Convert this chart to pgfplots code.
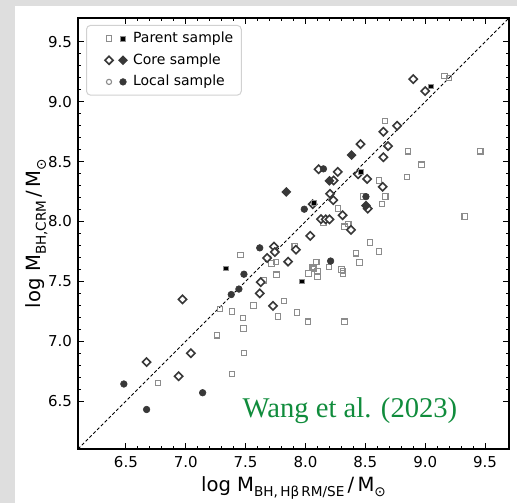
\documentclass[border=0pt]{standalone}
\usepackage{pgfplots}
\pgfplotsset{compat=1.18}
\usepackage{pgfplotstable}
\usepackage{fontspec}
\setmainfont{DejaVu Sans}
\newfontfamily\citefont{Liberation Serif}

\definecolor{bggray}{HTML}{DEDEDE}
\definecolor{opengray}{HTML}{8C8C8C}
\definecolor{coredark}{HTML}{383838}
\definecolor{citegreen}{RGB}{16,140,60}

% parent sample, SE masses (open) and RM masses (filled)
\pgfplotstableread{
x y
9.16 9.215
9.20 9.20
8.665 8.84
8.855 8.587
9.46 8.587
8.97 8.475
8.85 8.372
8.615 8.343
8.667 8.208
8.64 8.145
9.33 8.042
8.48 8.21
8.27 8.11
8.15 7.99
8.325 7.957
8.358 7.98
7.91 7.793
8.54 7.825
8.42 7.735
8.615 7.75
8.45 7.657
8.06 7.618
8.09 7.66
8.195 7.622
8.30 7.60
8.024 7.565
8.072 7.606
8.10 7.587
8.10 7.537
8.313 7.587
8.313 7.565
7.457 7.72
7.715 7.65
7.755 7.66
7.758 7.556
7.654 7.508
7.82 7.335
7.93 7.24
8.02 7.163
8.327 7.163
7.77 7.206
7.565 7.298
7.284 7.27
7.387 7.248
7.48 7.194
7.483 7.107
7.259 7.05
7.486 6.90
7.387 6.727
6.77 6.65
}\parentopen
\pgfplotstableread{
x y
9.05 9.13
8.46 8.417
8.07 8.155
7.336 7.61
7.968 7.50
}\parentfilled

% core sample
\pgfplotstableread{
x y
8.90 9.19
9.00 9.09
8.765 8.80
8.65 8.75
8.46 8.647
8.69 8.63
8.65 8.537
8.11 8.437
8.27 8.415
8.44 8.395
8.515 8.356
8.235 8.343
8.645 8.29
8.205 8.232
8.232 8.178
8.52 8.108
8.06 8.145
8.13 8.02
8.17 8.018
8.20 8.018
8.31 8.053
8.38 7.93
8.04 7.88
7.92 7.765
7.737 7.79
7.744 7.745
7.855 7.665
7.68 7.695
7.626 7.494
7.618 7.40
7.729 7.295
6.973 7.35
7.043 6.90
6.673 6.826
6.94 6.708
}\coreopen
\pgfplotstableread{
x y
8.385 8.555
8.20 8.34
7.84 8.247
8.505 8.133
}\corefilled

% local sample
\pgfplotstableread{
x y
8.15 8.44
7.99 8.103
8.505 8.208
8.21 7.67
7.618 7.78
7.486 7.56
7.444 7.436
7.38 7.39
6.483 6.643
6.673 6.43
7.141 6.57
}\localfilled

\tikzset{
  pOpen/.style={mark=square, mark size=1.35pt,
    mark options={draw=opengray, line width=0.55pt}},
  pFill/.style={mark=square*, mark size=1.2pt,
    mark options={draw=opengray, fill=black, line width=0.3pt}},
  cOpen/.style={mark=square*, mark size=1.45pt,
    mark options={rotate=45, draw=coredark, fill=white, line width=0.8pt}},
  cFill/.style={mark=square*, mark size=1.45pt,
    mark options={rotate=45, draw=coredark, fill=coredark, line width=0.6pt}},
  lOpen/.style={mark=o, mark size=1.3pt,
    mark options={draw=opengray, line width=0.55pt}},
  lFill/.style={mark=*, mark size=1.65pt,
    mark options={draw=coredark, fill=coredark, line width=0.3pt}},
}

\newcommand{\lsub}[1]{\raisebox{-0.45ex}{\fontsize{6.8}{7}\selectfont #1}}

\begin{document}
\begin{tikzpicture}
\fill[bggray] (0pt,0pt) rectangle (258.5pt,251.5pt);
\fill[white] (7.5pt,0pt) rectangle (258.5pt,248.5pt);
\begin{axis}[
  at={(39pt,27pt)}, anchor=south west,
  scale only axis, width=215.5pt, height=215.5pt,
  xmin=6.1, xmax=9.7, ymin=6.1, ymax=9.7,
  xtick={6.5,7.0,...,9.5}, ytick={6.5,7.0,...,9.5},
  minor tick num=4,
  tick align=inside,
  major tick length=3.2pt, minor tick length=1.7pt,
  every tick/.style={black, line width=0.5pt},
  axis line style={line width=0.8pt},
  tick label style={font=\fontsize{7.5}{9}\selectfont},
  /pgf/number format/fixed,
  /pgf/number format/fixed zerofill,
  /pgf/number format/precision=1,
  /pgf/number format/assume math mode=true,
  xticklabel style={yshift=-0.3pt},
  yticklabel style={xshift=0.5pt},
  xlabel={\fontsize{9.8}{11}\selectfont log M\lsub{BH,\,Hβ\,RM/SE}\,/\,M\lsub{⊙}},
  ylabel={\fontsize{9.8}{11}\selectfont log M\lsub{BH,CRM}\,/\,M\lsub{⊙}},
  xlabel style={yshift=2.5pt},
  ylabel style={yshift=-6.5pt},
  legend cell align=left,
  legend style={at={(axis description cs:0.0186,0.984)}, anchor=north west,
    draw=black!18, rounded corners=2pt, line width=0.5pt,
    font=\fontsize{7}{8.4}\selectfont,
    inner xsep=2pt, inner ysep=1.2pt, row sep=0pt},
]
\addlegendimage{legend image code/.code={
  \path (-9pt,0pt) (9.8pt,0pt);
  \draw plot[pOpen] coordinates {(0pt,0pt)};
  \draw plot[pFill] coordinates {(7pt,0pt)};}}
\addlegendentry{Parent sample}
\addlegendimage{legend image code/.code={
  \path (-9pt,0pt) (9.8pt,0pt);
  \draw plot[cOpen] coordinates {(0pt,0pt)};
  \draw plot[cFill] coordinates {(7pt,0pt)};}}
\addlegendentry{Core sample}
\addlegendimage{legend image code/.code={
  \path (-9pt,0pt) (9.8pt,0pt);
  \draw plot[lOpen] coordinates {(0pt,0pt)};
  \draw plot[lFill] coordinates {(7pt,0pt)};}}
\addlegendentry{Local sample}

% one-to-one relation
\addplot[forget plot, black, line width=0.4pt, dash pattern=on 1.6pt off 1.1pt]
  coordinates {(6.1,6.1) (9.7,9.7)};

\addplot[forget plot, only marks, pOpen] table {\parentopen};
\addplot[forget plot, only marks, cOpen] table {\coreopen};
\addplot[forget plot, only marks, cFill] table {\corefilled};
\addplot[forget plot, only marks, lFill] table {\localfilled};
\addplot[forget plot, only marks, pFill] table {\parentfilled};

\node[font=\citefont\fontsize{14.3}{16}\selectfont, text=citegreen]
  at (rel axis cs:0.631,0.089) {Wang et al. (2023)};
\end{axis}
\pgfresetboundingbox
\useasboundingbox (0pt,0pt) rectangle (258.5pt,251.5pt);
\end{tikzpicture}
\end{document}
